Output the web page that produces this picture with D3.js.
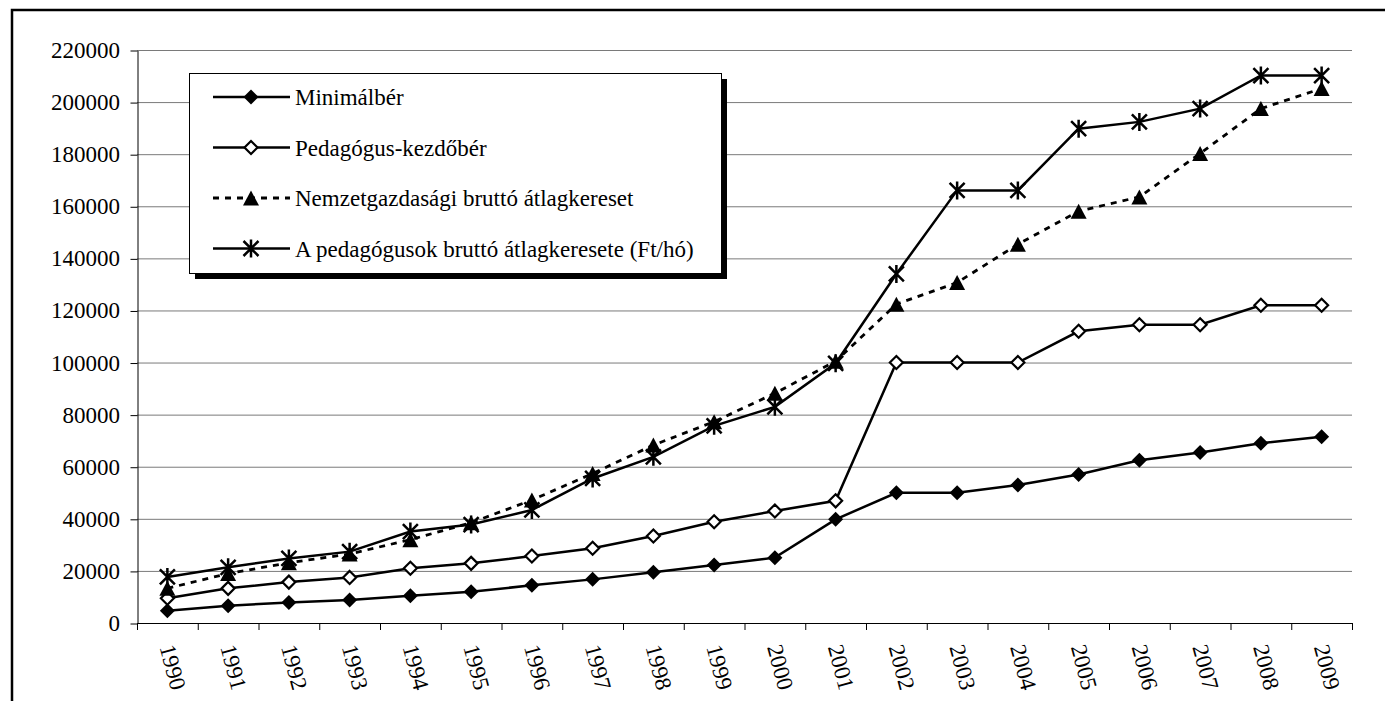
<!DOCTYPE html>
<html>
<head>
<meta charset="utf-8">
<script src="https://cdn.jsdelivr.net/npm/d3@7"></script>
<style>
  body { margin: 0; background: #fff; }
</style>
</head>
<body>
<div id="chart"></div>
<script>
// data (Ft/month)
var years = ["1990","1991","1992","1993","1994","1995","1996","1997","1998","1999",
             "2000","2001","2002","2003","2004","2005","2006","2007","2008","2009"];
var minimalber = [4700, 6650, 7900, 8850, 10450, 12000, 14450, 16750, 19450, 22250,
                  25100, 39800, 50000, 50000, 53000, 57000, 62500, 65500, 69000, 71500];
var kezdober = [9500, 13300, 15700, 17500, 21000, 22900, 25700, 28700, 33400, 38900,
                43000, 46900, 100000, 100000, 100000, 112000, 114500, 114500, 122000, 122000];
var nemzetgazd = [13300, 19000, 23100, 26500, 32000, 38500, 47200, 57400, 68300, 77300,
                  88200, 100500, 122400, 130700, 145400, 158100, 163600, 180300, 197500, 205200];
var pedAtlag = [17700, 21400, 24800, 27400, 35100, 37800, 43400, 55500, 63800, 75700,
                83000, 99700, 134000, 166100, 166100, 189800, 192400, 197500, 210200, 210200];
var seriesNames = ["Minimálbér", "Pedagógus-kezdőbér",
                   "Nemzetgazdasági bruttó átlagkereset",
                   "A pedagógusok bruttó átlagkeresete (Ft/hó)"];
var yTicks = [0, 20000, 40000, 60000, 80000, 100000, 120000, 140000, 160000, 180000, 200000, 220000];

var svgWidth = 1385;
var svgHeight = 701;
var fontFam = "'Times New Roman'";

var plot = { left: 137, right: 1352, top: 50, bottom: 623 };

var svg = d3.select("#chart")
    .append("svg")
    .attr("width", svgWidth)
    .attr("height", svgHeight);

// outer frame (runs off the picture on the right and bottom)
svg.append("rect")
    .attr("x", 12).attr("y", 10)
    .attr("width", 1400).attr("height", 720)
    .attr("fill", "none")
    .attr("stroke", "#000")
    .attr("stroke-width", 2.5);

var x = d3.scaleBand()
    .domain(years)
    .range([plot.left, plot.right])
    .paddingInner(0).paddingOuter(0);

var y = d3.scaleLinear()
    .domain([0, 220000])
    .range([plot.bottom, plot.top]);

var cx = function(i) { return x(years[i]) + x.bandwidth() / 2; };

// gridlines
svg.append("g").selectAll("line")
    .data(yTicks.filter(function(t) { return t > 0; }))
    .enter().append("line")
    .attr("x1", plot.left).attr("x2", plot.right)
    .attr("y1", function(t) { return y(t) + 0.5; })
    .attr("y2", function(t) { return y(t) + 0.5; })
    .attr("stroke", "#7a7a7a")
    .attr("stroke-width", 1);

// y axis line and ticks
var leftAxis = d3.axisLeft(y)
    .tickValues(yTicks)
    .tickFormat("")
    .tickSize(7)
    .tickSizeOuter(0);

var yAxisG = svg.append("g")
    .attr("transform", "translate(" + (plot.left + 0.5) + ",0.5)")
    .call(leftAxis);
yAxisG.selectAll("line").attr("stroke", "#000");
yAxisG.select(".domain").attr("stroke", "#000");

svg.append("g").selectAll("text")
    .data(yTicks)
    .enter().append("text")
    .style("font-family", fontFam)
    .style("font-size", "23px")
    .attr("fill", "#000")
    .attr("x", 120)
    .attr("y", function(t) { return y(t) + 8; })
    .attr("text-anchor", "end")
    .text(d3.format("d"));

// x axis: line, ticks between categories, rotated labels
svg.append("line")
    .attr("x1", plot.left).attr("x2", plot.right + 1)
    .attr("y1", plot.bottom + 0.5).attr("y2", plot.bottom + 0.5)
    .attr("stroke", "#000");

var boundaries = years.map(function(d) { return x(d); }).concat([plot.right]);
svg.append("g").selectAll("line")
    .data(boundaries)
    .enter().append("line")
    .attr("x1", function(d) { return d + 0.5; })
    .attr("x2", function(d) { return d + 0.5; })
    .attr("y1", plot.bottom).attr("y2", plot.bottom + 7)
    .attr("stroke", "#000");

svg.append("g").selectAll("text")
    .data(years)
    .enter().append("text")
    .style("font-family", fontFam)
    .style("font-size", "23px")
    .attr("fill", "#000")
    .attr("transform", function(d, i) {
        return "translate(" + (cx(i) - 8) + "," + 647 + ") rotate(75)";
    })
    .text(function(d) { return d; });

// marker shapes
function diamond(s) {
    return "M0," + (-s) + "L" + s + ",0L0," + s + "L" + (-s) + ",0Z";
}
function triangle(w, h) {
    return "M0," + (-h / 2) + "L" + w + "," + (h / 2) + "L" + (-w) + "," + (h / 2) + "Z";
}
function star(s) {
    return "M" + (-s) + "," + (-s) + "L" + s + "," + s +
           "M" + s + "," + (-s) + "L" + (-s) + "," + s +
           "M0," + (-s - 1.5) + "L0," + (s + 1.5);
}

var series = [
    { name: seriesNames[0], values: minimalber, dash: null,
      marker: diamond(7.5), fill: "#000", stroke: "none", sw: 0 },
    { name: seriesNames[1], values: kezdober, dash: null,
      marker: diamond(6.5), fill: "#fff", stroke: "#000", sw: 2.2 },
    { name: seriesNames[2], values: nemzetgazd, dash: "6,6",
      marker: triangle(8, 15), fill: "#000", stroke: "none", sw: 0 },
    { name: seriesNames[3], values: pedAtlag, dash: null,
      marker: star(7.5), fill: "none", stroke: "#000", sw: 2.5 }
];

var line = d3.line()
    .x(function(d, i) { return cx(i); })
    .y(function(d) { return y(d); });

series.forEach(function(s) {
    svg.append("path")
        .attr("d", line(s.values))
        .attr("fill", "none")
        .attr("stroke", "#000")
        .attr("stroke-width", s.dash ? 2.8 : 2.5)
        .attr("stroke-dasharray", s.dash);
});

series.forEach(function(s) {
    svg.append("g").selectAll("path")
        .data(s.values)
        .enter().append("path")
        .attr("transform", function(d, i) { return "translate(" + cx(i) + "," + y(d) + ")"; })
        .attr("d", s.marker)
        .attr("fill", s.fill)
        .attr("stroke", s.stroke)
        .attr("stroke-width", s.sw);
});

// legend with drop shadow
var lg = { x: 189, y: 73, w: 532, h: 200 };
svg.append("rect")
    .attr("x", lg.x + 6).attr("y", lg.y + 6)
    .attr("width", lg.w).attr("height", lg.h)
    .attr("fill", "#000");
svg.append("rect")
    .attr("x", lg.x + 0.5).attr("y", lg.y + 0.5)
    .attr("width", lg.w).attr("height", lg.h)
    .attr("fill", "#fff")
    .attr("stroke", "#000")
    .attr("stroke-width", 1);

series.forEach(function(s, i) {
    var ry = 97 + i * 50.5;
    var row = svg.append("g");
    row.append("line")
        .attr("x1", 213).attr("x2", 290)
        .attr("y1", ry).attr("y2", ry)
        .attr("stroke", "#000")
        .attr("stroke-width", s.dash ? 2.8 : 2.5)
        .attr("stroke-dasharray", s.dash);
    row.append("path")
        .attr("transform", "translate(251," + ry + ")")
        .attr("d", s.marker)
        .attr("fill", s.fill)
        .attr("stroke", s.stroke)
        .attr("stroke-width", s.sw);
    row.append("text")
        .style("font-family", fontFam)
        .style("font-size", "23px")
        .attr("fill", "#000")
        .attr("x", 295).attr("y", ry + 8)
        .text(s.name);
});
</script>
</body>
</html>
